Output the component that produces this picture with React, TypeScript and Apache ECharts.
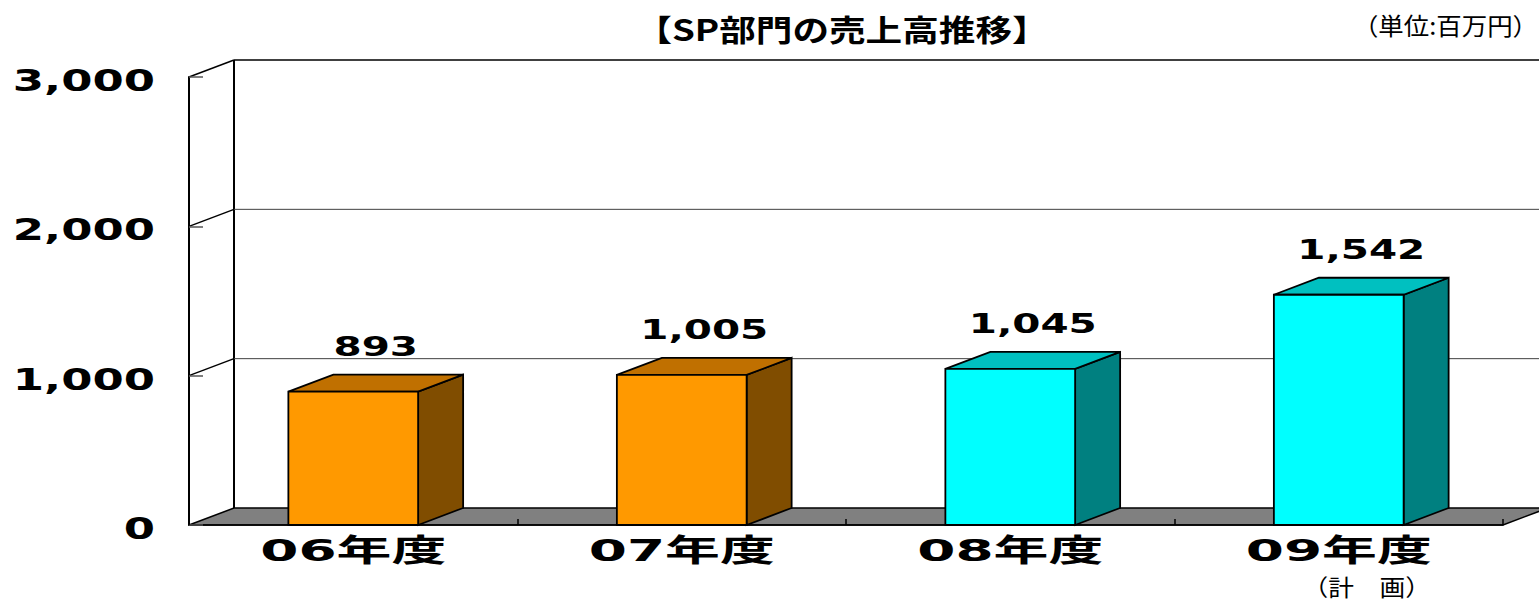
import React, { useEffect, useRef } from "react";
import * as echarts from "echarts";

// ---- data ----
const categories = ["06年度", "07年度", "08年度", "09年度"];
const sales = [893, 1005, 1045, 1542];
const subLabels = ["", "", "", "（計　画）"];
const yTicks = [0, 1000, 2000, 3000];
const yMax = 3000;
const yInterval = 1000;
const titleText = "【SP部門の売上高推移】";
const unitText = "（単位:百万円）";

// ---- style ----
const DX = 45;
const DY = 17;
const ORANGE = { front: "#FF9900", top: "#C07000", side: "#804D00" };
const CYAN = { front: "#00FFFF", top: "#00C0C0", side: "#008080" };
const barStyles = [ORANGE, ORANGE, CYAN, CYAN];
const LATIN = '"DejaVu Sans", "Noto Sans CJK JP", sans-serif';
const CJK = '"Noto Sans CJK JP", sans-serif';

const fmt = (v: number) => v.toLocaleString("en-US");

function txt(x: number, y: number, text: string, opts: any) {
  return {
    type: "text",
    x,
    y,
    scaleX: opts.scaleX ?? 1,
    style: {
      x: 0,
      y: 0,
      text,
      fill: "#000",
      fontSize: opts.fontSize,
      fontWeight: opts.fontWeight ?? "normal",
      fontFamily: opts.fontFamily,
      align: opts.align ?? "center",
      verticalAlign: "middle",
      textAlign: opts.align ?? "center",
      textVerticalAlign: "middle",
    },
  };
}

export default function App() {
  const ref = useRef<HTMLDivElement>(null);

  useEffect(() => {
    if (!ref.current) return;
    const chart = echarts.init(ref.current, undefined, { renderer: "svg" });

    const option: any = {
      animation: false,
      backgroundColor: "#fff",
      grid: { left: 189, top: 77, width: 1314, height: 448, containLabel: false },
      xAxis: {
        type: "category",
        data: categories,
        boundaryGap: true,
        z: 10,
        axisLine: { show: true, lineStyle: { color: "#000", width: 1.5 } },
        axisTick: { show: true, inside: true, length: 6, lineStyle: { color: "#000", width: 1.5 } },
        axisLabel: { show: false },
        splitLine: { show: false },
      },
      yAxis: {
        type: "value",
        min: 0,
        max: yMax,
        interval: yInterval,
        z: 10,
        axisLine: { show: true, lineStyle: { color: "#000", width: 2 } },
        axisTick: { show: true, inside: true, length: 14, lineStyle: { color: "#555", width: 1.5 } },
        axisLabel: { show: false },
        splitLine: { show: false },
      },
      graphic: [
        {
          type: "text",
          x: 842,
          y: 28,
          scaleX: 1.22,
          style: {
            text: titleText,
            fill: "#000",
            fontSize: 30,
            fontWeight: "bold",
            fontFamily: CJK,
            align: "center",
            verticalAlign: "middle",
          },
        },
        {
          type: "text",
          x: 1538,
          y: 24,
          scaleX: 1.06,
          style: {
            text: unitText,
            fill: "#000",
            fontSize: 24,
            fontFamily: CJK,
            align: "right",
            verticalAlign: "middle",
          },
        },
      ],
      series: [
        // frame: floor and walls
        {
          type: "custom",
          z: 1,
          silent: true,
          data: [[0, 0]],
          renderItem: (params: any, api: any) => {
            const cs = params.coordSys;
            const x0 = cs.x, y0 = cs.y, w = cs.width, h = cs.height;
            const b = y0 + h;
            return {
              type: "group",
              children: [
                {
                  type: "polygon",
                  shape: { points: [[x0 + DX, y0 - DY], [x0 + w + DX, y0 - DY], [x0 + w + DX, b - DY], [x0 + DX, b - DY]] },
                  style: { fill: "#fff" },
                },
                {
                  type: "polygon",
                  shape: { points: [[x0, y0], [x0 + DX, y0 - DY], [x0 + DX, b - DY], [x0, b]] },
                  style: { fill: "#fff" },
                },
                {
                  type: "polygon",
                  shape: { points: [[x0, b], [x0 + w, b], [x0 + w + DX, b - DY], [x0 + DX, b - DY]] },
                  style: { fill: "#808080", stroke: "#000", lineWidth: 1.5 },
                },
                {
                  type: "line",
                  shape: { x1: x0 + DX, y1: b - DY, x2: x0 + DX, y2: y0 - DY },
                  style: { stroke: "#000", lineWidth: 2 },
                },
                {
                  type: "line",
                  shape: { x1: x0 + w + DX, y1: b - DY, x2: x0 + w + DX, y2: y0 - DY },
                  style: { stroke: "#000", lineWidth: 1.5 },
                },
              ],
            };
          },
        },
        // gridlines on side and back walls
        {
          type: "custom",
          z: 2,
          silent: true,
          data: yTicks.filter((v) => v > 0).map((v) => [0, v]),
          renderItem: (params: any, api: any) => {
            const cs = params.coordSys;
            const x0 = cs.x, w = cs.width;
            const v = api.value(1);
            const y = api.coord([0, v])[1];
            const isTop = v >= yMax;
            return {
              type: "group",
              children: [
                {
                  type: "line",
                  shape: { x1: x0, y1: y, x2: x0 + DX, y2: y - DY },
                  style: { stroke: "#000", lineWidth: 1.5 },
                },
                {
                  type: "line",
                  shape: { x1: x0 + DX, y1: y - DY, x2: x0 + w + DX, y2: y - DY },
                  style: { stroke: isTop ? "#000" : "#404040", lineWidth: isTop ? 1.5 : 1 },
                },
              ],
            };
          },
        },
        // 3D bars with value labels
        {
          type: "custom",
          z: 3,
          data: sales.map((v, i) => [i, v]),
          renderItem: (params: any, api: any) => {
            const i = params.dataIndex;
            const v = api.value(1);
            const top = api.coord([api.value(0), v]);
            const base = api.coord([api.value(0), 0]);
            const bw = api.size([1, 0])[0] * 0.395;
            const xl = top[0] - bw / 2;
            const xr = top[0] + bw / 2;
            const yt = top[1];
            const yb = base[1];
            const c = barStyles[i];
            const edge = { stroke: "#000", lineWidth: 1.8 };
            return {
              type: "group",
              children: [
                {
                  type: "polygon",
                  shape: { points: [[xr, yb], [xr, yt], [xr + DX, yt - DY], [xr + DX, yb - DY]] },
                  style: { fill: c.side, ...edge },
                },
                {
                  type: "polygon",
                  shape: { points: [[xl, yt], [xr, yt], [xr + DX, yt - DY], [xl + DX, yt - DY]] },
                  style: { fill: c.top, ...edge },
                },
                {
                  type: "rect",
                  shape: { x: xl, y: yt, width: bw, height: yb - yt },
                  style: { fill: c.front, ...edge },
                },
                txt(top[0] + DX / 2, yt - DY - 28, fmt(v), {
                  fontSize: 27,
                  fontWeight: "bold",
                  fontFamily: LATIN,
                  scaleX: 1.5,
                }),
              ],
            };
          },
        },
        // category labels
        {
          type: "custom",
          z: 4,
          silent: true,
          data: categories.map((_, i) => [i, 0]),
          renderItem: (params: any, api: any) => {
            const i = params.dataIndex;
            const p = api.coord([api.value(0), 0]);
            const children: any[] = [
              txt(p[0], p[1] + 26, categories[i], {
                fontSize: 31,
                fontWeight: "bold",
                fontFamily: LATIN,
                scaleX: 1.77,
              }),
            ];
            if (subLabels[i]) {
              children.push(
                txt(p[0] + 28, p[1] + 61, subLabels[i], {
                  fontSize: 23,
                  fontFamily: CJK,
                  scaleX: 1.12,
                })
              );
            }
            return { type: "group", children };
          },
        },
        // y-axis labels
        {
          type: "custom",
          z: 4,
          silent: true,
          data: yTicks.map((v) => [0, v]),
          renderItem: (params: any, api: any) => {
            const cs = params.coordSys;
            const v = api.value(1);
            const y = api.coord([0, v])[1];
            return txt(cs.x - 34, y + 3, fmt(v), {
              fontSize: 31,
              fontWeight: "bold",
              fontFamily: LATIN,
              scaleX: 1.45,
              align: "right",
            });
          },
        },
      ],
    };

    chart.setOption(option);
    return () => chart.dispose();
  }, []);

  return (
    <div
      ref={ref}
      style={{ position: "absolute", left: 0, top: 0, width: 1539, height: 603 }}
    />
  );
}
